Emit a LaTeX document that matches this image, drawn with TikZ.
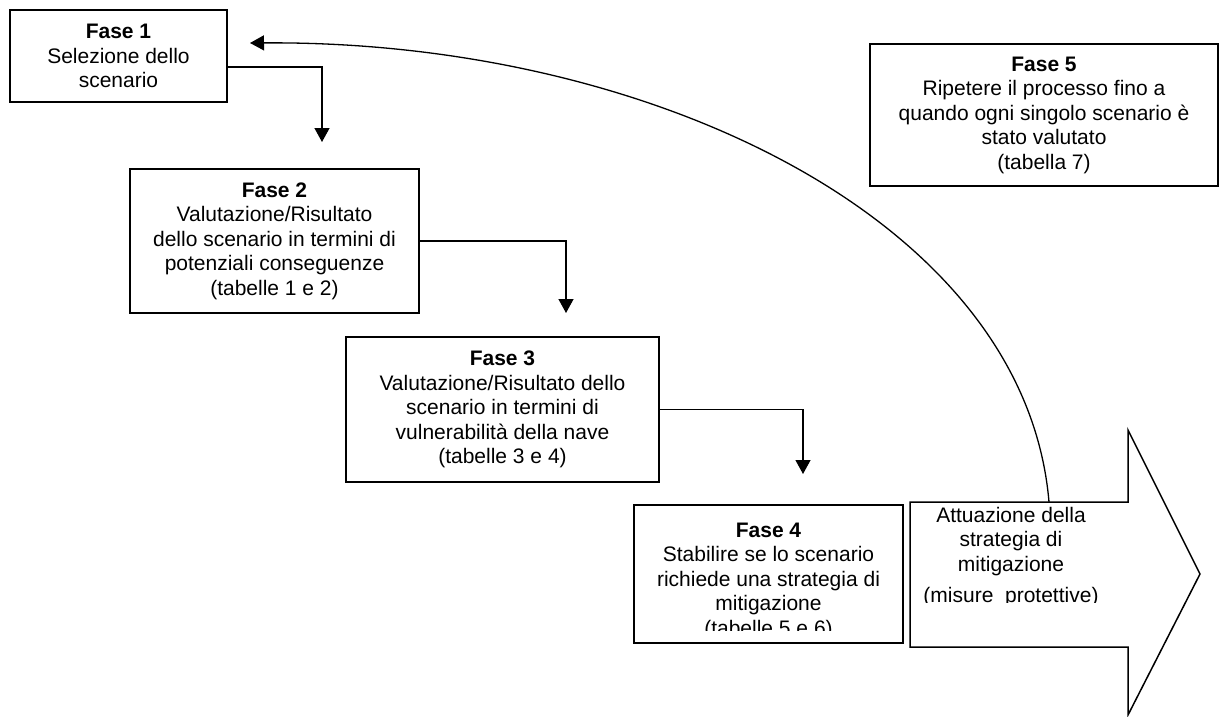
\documentclass[tikz,border=0pt]{standalone}
\usepackage{fontspec}
\setmainfont{Liberation Sans}
\usetikzlibrary{arrows.meta}
\begin{document}
\begin{tikzpicture}
[x=1pt,y=-1pt,
 phase/.style={draw=black, line width=1.5pt, fill=white, inner sep=0pt, align=center, font=\fontsize{21}{24.5}\selectfont},
 phasetext/.style={inner sep=0pt, align=center, font=\fontsize{21}{24.5}\selectfont},
 link/.style={line width=1.3pt, -{Triangle[width=15pt,length=14pt]}}]
\useasboundingbox (0,0) rectangle (1224,717);
% fasi
\node[phase, minimum width=217pt, minimum height=92pt] (f1) at (118.5,56) {\textbf{Fase 1}\\Selezione dello\\scenario};
\node[phase, minimum width=289pt, minimum height=144pt] (f2) at (274.5,241) {\textbf{Fase 2}\\Valutazione/Risultato\\dello scenario in termini di\\potenziali conseguenze\\(tabelle 1 e 2)};
\node[phase, minimum width=313pt, minimum height=145pt] (f3) at (502.5,409.5) {\textbf{Fase 3}\\Valutazione/Risultato dello\\scenario in termini di\\vulnerabilità della nave\\(tabelle 3 e 4)};
\node[phase, minimum width=269pt, minimum height=138pt] (f4) at (768.5,574) {};
\begin{scope}
\clip (636,507) rectangle (901,630);
\node[phasetext] (f4text) at (768.5,581) {\textbf{Fase 4}\\Stabilire se lo scenario\\richiede una strategia di\\mitigazione\\(tabelle 5 e 6)};
\end{scope}
\node[phase, minimum width=348pt, minimum height=142pt] (f5) at (1044,115) {\textbf{Fase 5}\\Ripetere il processo fino a\\quando ogni singolo scenario è\\stato valutato\\(tabella 7)};
% freccia grande
\draw[line width=1.5pt, fill=white] (910,502) -- (1128,502) -- (1128,430) -- (1200,574) -- (1128,715) -- (1128,647) -- (910,647) -- cycle;
\begin{scope}
\clip (912,504) rectangle (1126,602);
\node[phasetext] (att) at (1011,557) {Attuazione della\\strategia di\\mitigazione\\[7pt](misure \ protettive)};
\end{scope}
% collegamenti
\coordinate (t2) at (322,142);
\coordinate (t3) at (566,313);
\coordinate (t4) at (803,474);
\coordinate (act) at (1049,502);
\coordinate (ret) at (250,43);
\draw[link] ([yshift=-11pt]f1.east) -| (t2);
\draw[link] (f2.east) -| (t3);
\draw[link] (f3.east) -| (t4);
\draw[link] (act) .. controls (1025,220) and (650,40) .. (ret);
\end{tikzpicture}
\end{document}
